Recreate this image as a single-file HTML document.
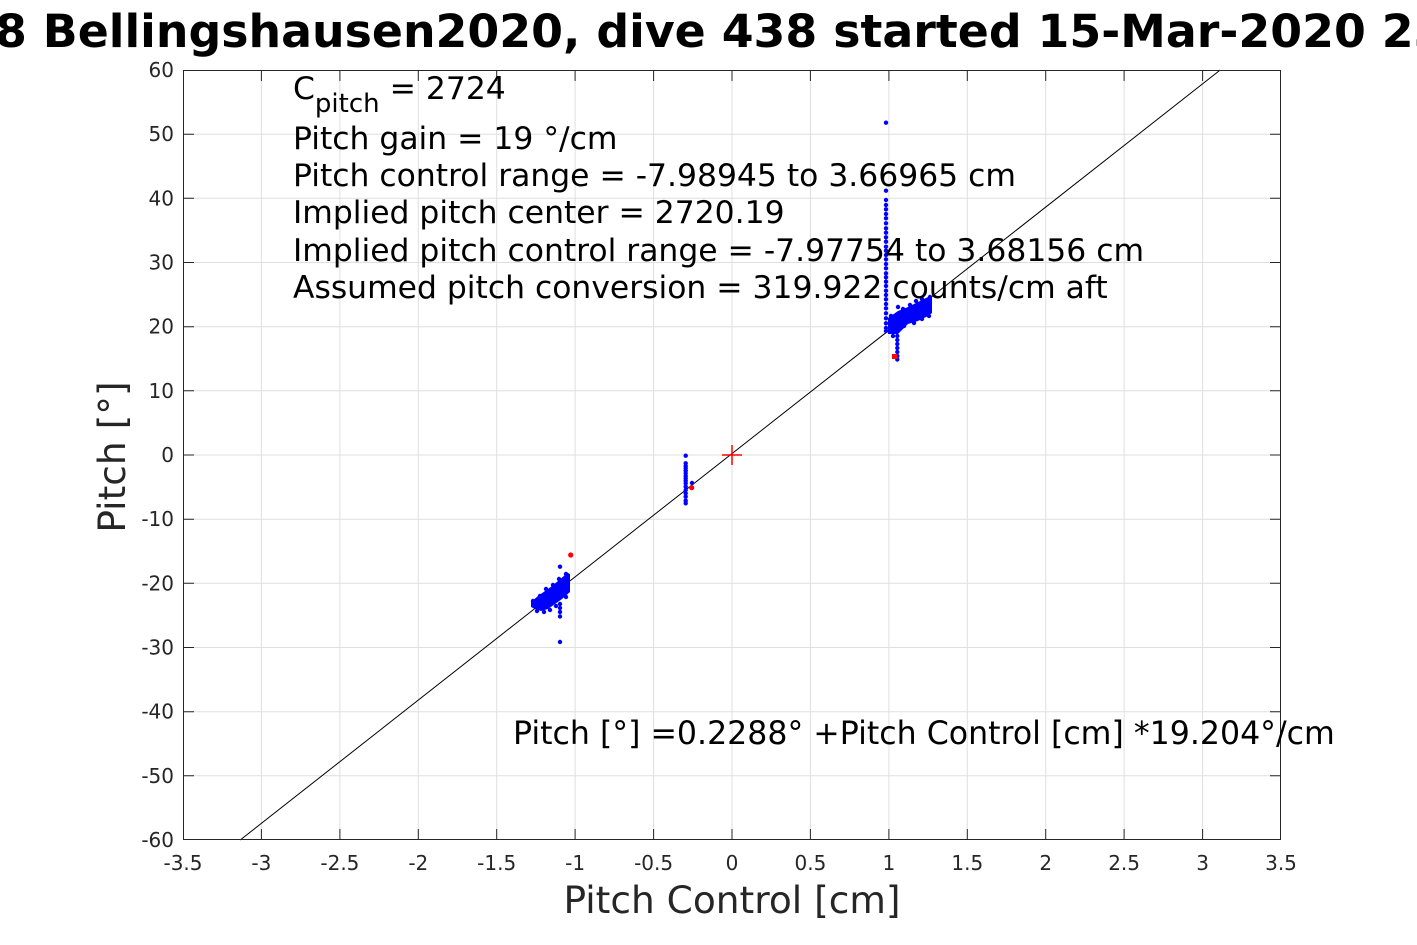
<!DOCTYPE html>
<html><head><meta charset="utf-8"><style>
html,body{margin:0;padding:0;background:#fff;}
svg{display:block;}
text{font-family:"DejaVu Sans","Liberation Sans",sans-serif;}
</style></head><body>
<svg width="1417" height="945" viewBox="0 0 1417 945" xmlns="http://www.w3.org/2000/svg">
<rect width="1417" height="945" fill="#fff"/>
<!-- title -->
<text x="-5" y="47" font-size="45.8" font-weight="bold" fill="#000">8 Bellingshausen2020, dive 438 started 15-Mar-2020 23:00:00</text>
<!-- plot bg -->
<rect x="183" y="70" width="1098" height="770" fill="#fff"/>
<!-- grid -->
<g stroke="#dfdfdf" stroke-width="1">
<line x1="261.4" y1="70" x2="261.4" y2="840"/><line x1="339.9" y1="70" x2="339.9" y2="840"/>
<line x1="418.3" y1="70" x2="418.3" y2="840"/><line x1="496.7" y1="70" x2="496.7" y2="840"/>
<line x1="575.1" y1="70" x2="575.1" y2="840"/><line x1="653.6" y1="70" x2="653.6" y2="840"/>
<line x1="732" y1="70" x2="732" y2="840"/><line x1="810.4" y1="70" x2="810.4" y2="840"/>
<line x1="888.9" y1="70" x2="888.9" y2="840"/><line x1="967.3" y1="70" x2="967.3" y2="840"/>
<line x1="1045.7" y1="70" x2="1045.7" y2="840"/><line x1="1124.1" y1="70" x2="1124.1" y2="840"/>
<line x1="1202.6" y1="70" x2="1202.6" y2="840"/>
<line x1="183" y1="134.2" x2="1281" y2="134.2"/><line x1="183" y1="198.3" x2="1281" y2="198.3"/>
<line x1="183" y1="262.5" x2="1281" y2="262.5"/><line x1="183" y1="326.7" x2="1281" y2="326.7"/>
<line x1="183" y1="390.8" x2="1281" y2="390.8"/><line x1="183" y1="455" x2="1281" y2="455"/>
<line x1="183" y1="519.2" x2="1281" y2="519.2"/><line x1="183" y1="583.3" x2="1281" y2="583.3"/>
<line x1="183" y1="647.5" x2="1281" y2="647.5"/><line x1="183" y1="711.7" x2="1281" y2="711.7"/>
<line x1="183" y1="775.8" x2="1281" y2="775.8"/>
</g>
<!-- fit line -->
<line x1="240.2" y1="840" x2="1220.2" y2="70" stroke="#000" stroke-width="1"/>
<!-- data -->
<g fill="#0000ff">
<!-- upper column -->
<circle cx="886" cy="122.7" r="2.2"/>
<circle cx="886" cy="190.7" r="2.2"/><circle cx="886" cy="200" r="2.2"/><circle cx="886" cy="205" r="2.2"/>
<circle cx="886" cy="209.3" r="2.2"/><circle cx="886" cy="214" r="2.2"/><circle cx="886" cy="218.3" r="2.2"/>
<circle cx="886" cy="223.3" r="2.2"/><circle cx="886" cy="228.3" r="2.2"/><circle cx="886" cy="232.7" r="2.2"/>
<circle cx="886" cy="237.3" r="2.2"/><circle cx="886" cy="241.7" r="2.2"/><circle cx="886" cy="246.7" r="2.2"/>
<circle cx="886" cy="250.7" r="2.2"/><circle cx="886" cy="255" r="2.2"/><circle cx="886" cy="259.3" r="2.2"/>
<circle cx="886" cy="264" r="2.2"/><circle cx="886" cy="268.3" r="2.2"/><circle cx="886" cy="273.3" r="2.2"/>
<circle cx="886" cy="277.3" r="2.2"/><circle cx="886" cy="281.7" r="2.2"/><circle cx="886" cy="286" r="2.2"/>
<circle cx="886" cy="290.7" r="2.2"/><circle cx="886" cy="295" r="2.2"/><circle cx="886" cy="299.3" r="2.2"/>
<circle cx="886" cy="304" r="2.2"/><circle cx="886" cy="308.3" r="2.2"/><circle cx="886" cy="313.3" r="2.2"/>
<circle cx="886" cy="318.3" r="2.2"/><circle cx="886" cy="323.3" r="2.2"/><circle cx="886" cy="328" r="2.2"/>
<circle cx="886" cy="331" r="2.2"/>
<!-- upper blob -->
<polygon points="888,318 898,311 908,307 918,302 928,297 932,298 932,313 928,316 918,321 908,324 898,334 888,334"/>
<circle cx="898" cy="307" r="2.2"/><circle cx="903" cy="309" r="2.2"/><circle cx="910" cy="305" r="2.2"/>
<circle cx="916" cy="301" r="2.2"/><circle cx="922" cy="299" r="2.2"/><circle cx="930" cy="297" r="2.2"/>
<circle cx="891" cy="316" r="2.2"/><circle cx="893" cy="336" r="2.2"/><circle cx="904" cy="326" r="2.2"/>
<circle cx="914" cy="323" r="2.2"/><circle cx="922" cy="319" r="2.2"/><circle cx="929" cy="316" r="2.2"/>
<circle cx="897.3" cy="336" r="2.2"/><circle cx="897.3" cy="340" r="2.2"/><circle cx="897.3" cy="344" r="2.2"/>
<circle cx="897.3" cy="348" r="2.2"/><circle cx="897.3" cy="352" r="2.2"/><circle cx="897.3" cy="356" r="2.2"/>
<circle cx="897.3" cy="359.5" r="2.2"/>
<!-- middle column -->
<circle cx="685.7" cy="455.7" r="2.2"/><circle cx="685.7" cy="463.3" r="2.2"/><circle cx="685.7" cy="466" r="2.2"/>
<circle cx="685.7" cy="468.3" r="2.2"/><circle cx="685.7" cy="470.7" r="2.2"/><circle cx="685.7" cy="473.3" r="2.2"/>
<circle cx="685.7" cy="476" r="2.2"/><circle cx="685.7" cy="478.3" r="2.2"/><circle cx="685.7" cy="480.7" r="2.2"/>
<circle cx="685.7" cy="483.3" r="2.2"/><circle cx="685.7" cy="486.7" r="2.2"/><circle cx="685.7" cy="490" r="2.2"/>
<circle cx="685.7" cy="493.3" r="2.2"/><circle cx="685.7" cy="496.7" r="2.2"/><circle cx="685.7" cy="500.7" r="2.2"/>
<circle cx="685.7" cy="503.3" r="2.2"/><circle cx="692" cy="483" r="2.2"/>
<!-- lower blob -->
<polygon points="531,602 538,596 545,591 552,586 558,581 565,575 568,573 570,574 570,592 562,599 555,604 548,609 541,611 535,609 531,607"/>
<circle cx="533" cy="601" r="2.2"/><circle cx="540" cy="596" r="2.2"/><circle cx="546" cy="589" r="2.2"/>
<circle cx="553" cy="585" r="2.2"/><circle cx="559" cy="579" r="2.2"/><circle cx="566" cy="574" r="2.2"/>
<circle cx="537" cy="611" r="2.2"/><circle cx="544" cy="612" r="2.2"/><circle cx="550" cy="610" r="2.2"/>
<circle cx="556" cy="606" r="2.2"/><circle cx="566" cy="597" r="2.2"/>
<circle cx="560" cy="566.7" r="2.2"/>
<circle cx="560" cy="604" r="2.2"/><circle cx="560" cy="608" r="2.2"/><circle cx="560" cy="612" r="2.2"/>
<circle cx="560" cy="616.5" r="2.2"/><circle cx="560" cy="642" r="2.2"/>
</g>
<!-- red points -->
<g fill="#ff0000">
<rect x="892" y="354" width="5.5" height="5"/>
<circle cx="570.7" cy="555" r="2.6"/>
<circle cx="691.7" cy="487.7" r="2.6"/>
</g>
<g stroke="#ff0000" stroke-width="1.5">
<line x1="722" y1="455" x2="742" y2="455"/><line x1="732" y1="445" x2="732" y2="465"/>
</g>
<!-- frame -->
<rect x="183.5" y="70.5" width="1097" height="769" fill="none" stroke="#262626" stroke-width="1"/>
<!-- ticks -->
<g stroke="#262626" stroke-width="1">
<path d="M261.4 840v-11M339.9 840v-11M418.3 840v-11M496.7 840v-11M575.1 840v-11M653.6 840v-11M732 840v-11M810.4 840v-11M888.9 840v-11M967.3 840v-11M1045.7 840v-11M1124.1 840v-11M1202.6 840v-11"/>
<path d="M261.4 70v11M339.9 70v11M418.3 70v11M496.7 70v11M575.1 70v11M653.6 70v11M732 70v11M810.4 70v11M888.9 70v11M967.3 70v11M1045.7 70v11M1124.1 70v11M1202.6 70v11"/>
<path d="M183 134.2h11M183 198.3h11M183 262.5h11M183 326.7h11M183 390.8h11M183 455h11M183 519.2h11M183 583.3h11M183 647.5h11M183 711.7h11M183 775.8h11"/>
<path d="M1281 134.2h-11M1281 198.3h-11M1281 262.5h-11M1281 326.7h-11M1281 390.8h-11M1281 455h-11M1281 519.2h-11M1281 583.3h-11M1281 647.5h-11M1281 711.7h-11M1281 775.8h-11"/>
</g>
<!-- tick labels -->
<g font-size="20" fill="#262626" text-anchor="middle">
<text x="183" y="870">-3.5</text><text x="261.4" y="870">-3</text><text x="339.9" y="870">-2.5</text>
<text x="418.3" y="870">-2</text><text x="496.7" y="870">-1.5</text><text x="575.1" y="870">-1</text>
<text x="653.6" y="870">-0.5</text><text x="732" y="870">0</text><text x="810.4" y="870">0.5</text>
<text x="888.9" y="870">1</text><text x="967.3" y="870">1.5</text><text x="1045.7" y="870">2</text>
<text x="1124.1" y="870">2.5</text><text x="1202.6" y="870">3</text><text x="1281" y="870">3.5</text>
</g>
<g font-size="20" fill="#262626" text-anchor="end">
<text x="174" y="77">60</text><text x="174" y="141.2">50</text><text x="174" y="205.3">40</text>
<text x="174" y="269.5">30</text><text x="174" y="333.7">20</text><text x="174" y="397.8">10</text>
<text x="174" y="462">0</text><text x="174" y="526.2">-10</text><text x="174" y="590.3">-20</text>
<text x="174" y="654.5">-30</text><text x="174" y="718.7">-40</text><text x="174" y="782.8">-50</text>
<text x="174" y="847">-60</text>
</g>
<!-- axis labels -->
<text x="732" y="913" font-size="37.5" fill="#262626" text-anchor="middle">Pitch Control [cm]</text>
<text transform="translate(125,457) rotate(-90)" font-size="37.5" fill="#262626" text-anchor="middle">Pitch [°]</text>
<!-- annotations -->
<g font-size="31.4" fill="#000">
<text x="293" y="99">C<tspan font-size="26" dy="13">pitch</tspan><tspan dy="-13"> = 2724</tspan></text>
<text x="293" y="149">Pitch gain = 19 °/cm</text>
<text x="293" y="186">Pitch control range = -7.98945 to 3.66965 cm</text>
<text x="293" y="223">Implied pitch center = 2720.19</text>
<text x="293" y="261">Implied pitch control range = -7.97754 to 3.68156 cm</text>
<text x="293" y="298">Assumed pitch conversion = 319.922 counts/cm aft</text>
<text x="513" y="744" font-size="31.6">Pitch [°] =0.2288° +Pitch Control [cm] *19.204°/cm</text>
</g>
</svg>
</body></html>
